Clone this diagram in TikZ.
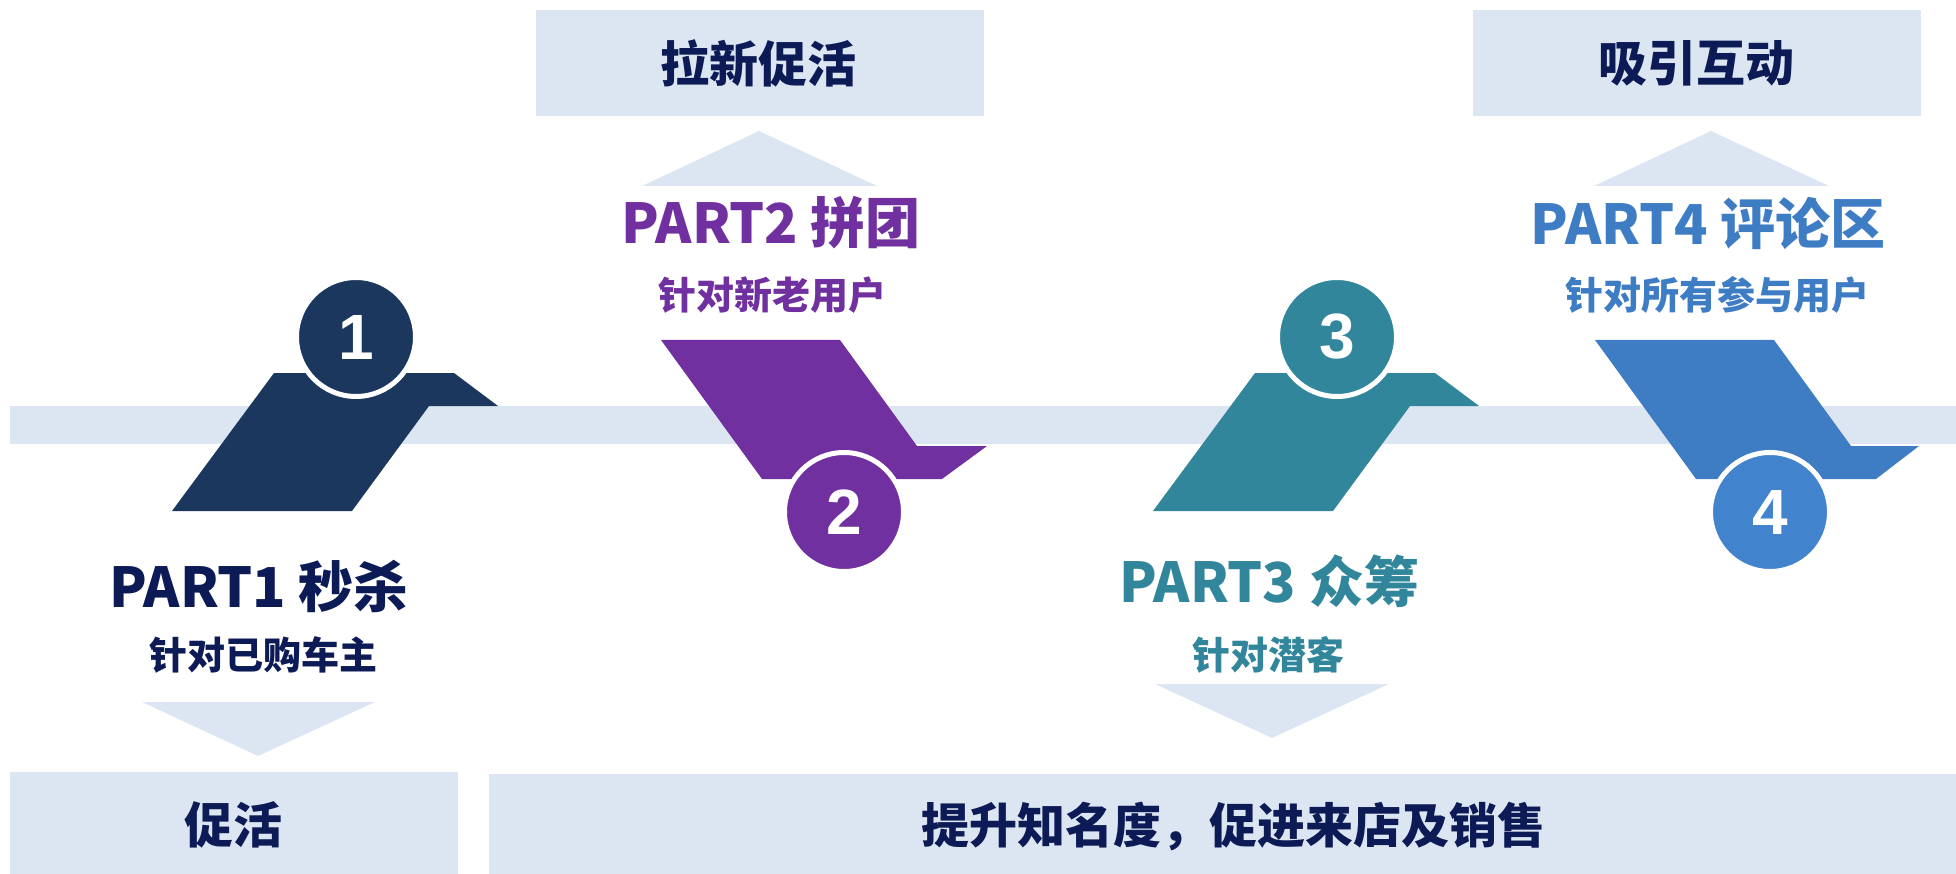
\documentclass[tikz,border=0pt]{standalone}
\usepackage{fontspec}
\setmainfont{Noto Sans CJK SC}
\newfontfamily\digitfont{Liberation Sans}
\definecolor{lightbg}{HTML}{DCE6F2}
\definecolor{navyc}{HTML}{1B375E}
\definecolor{purpc}{HTML}{7030A0}
\definecolor{tealc}{HTML}{31869B}
\definecolor{bluec}{HTML}{3E7CC4}
\definecolor{bluecirc}{HTML}{4283CE}
\definecolor{textnavy}{HTML}{0C1A55}
\begin{document}
\begin{tikzpicture}[x=1pt,y=-1pt,
  lbox/.style={fill=lightbg, draw=none, inner sep=0pt},
  tri/.style={fill=lightbg},
  num/.style={circle, minimum size=119pt, inner sep=0pt, draw=white, line width=5pt,
    text=white, font=\digitfont\bfseries\fontsize{64}{64}\selectfont},
  parttitle/.style={inner sep=0pt, font=\bfseries\fontsize{55}{58}\selectfont},
  subtitle/.style={inner sep=0pt, font=\bfseries\fontsize{38}{40}\selectfont},
  boxtext/.style={inner sep=0pt, text=textnavy, font=\bfseries\fontsize{49}{52}\selectfont},
]
\useasboundingbox (0,0) rectangle (1956,874);

% band
\path[lbox] (10,406) rectangle (1956,444);

% top boxes
\node[lbox, minimum width=448pt, minimum height=106pt, anchor=north west] (boxA) at (536,10) {};
\node[lbox, minimum width=448pt, minimum height=106pt, anchor=north west] (boxB) at (1473,10) {};
% bottom boxes
\node[lbox, minimum width=448pt, minimum height=102pt, anchor=north west] (boxC) at (10,772) {};
\node[lbox, minimum width=1467pt, minimum height=100pt, anchor=north west] (boxD) at (489,774) {};

\node[boxtext] (tA) at (758,63) {拉新促活};
\node[boxtext] (tB) at (1696,63) {吸引互动};
\node[boxtext] (tC) at (233,825) {促活};
\node[boxtext, font=\bfseries\fontsize{48}{50}\selectfont] (tD) at (1233,826) {提升知名度，促进来店及销售};

% triangles
\fill[tri] (642,186) -- (759,131) -- (877,186) -- cycle;
\fill[tri] (1594,186) -- (1711,131) -- (1829,186) -- cycle;
\fill[tri] (142,702) -- (375,702) -- (258,756) -- cycle;
\fill[tri] (1155,684) -- (1389,684) -- (1272,738) -- cycle;

% shapes
\fill[navyc] (172,511) -- (274,373) -- (454,373) -- (498,406) -- (429,406) -- (352,511) -- cycle;
\fill[purpc] (661,340) -- (840,340) -- (917,446) -- (987,446) -- (942,479) -- (762,479) -- cycle;
\fill[tealc] (1153,511) -- (1255,373) -- (1435,373) -- (1479,406) -- (1410,406) -- (1333,511) -- cycle;
\fill[bluec] (1595,340) -- (1774,340) -- (1851,446) -- (1919,446) -- (1876,479) -- (1696,479) -- cycle;

% circles
\node[num, fill=navyc] (c1) at (356,337) {1};
\node[num, fill=purpc] (c2) at (844,512) {2};
\node[num, fill=tealc] (c3) at (1337,337) {3};
\node[num, fill=bluecirc] (c4) at (1770,512) {4};

% labels
\node[parttitle, text=textnavy] (p1) at (259,586) {PART1 秒杀};
\node[subtitle, text=textnavy] (s1) at (263,655) {针对已购车主};
\node[parttitle, text=purpc] (p2) at (771,223) {PART2 拼团};
\node[subtitle, text=purpc] (s2) at (772,295) {针对新老用户};
\node[parttitle, text=tealc] (p3) at (1269,581) {PART3 众筹};
\node[subtitle, text=tealc] (s3) at (1268,655) {针对潜客};
\node[parttitle, text=bluec] (p4) at (1708,224) {PART4 评论区};
\node[subtitle, text=bluec] (s4) at (1717,295) {针对所有参与用户};
\end{tikzpicture}
\end{document}
